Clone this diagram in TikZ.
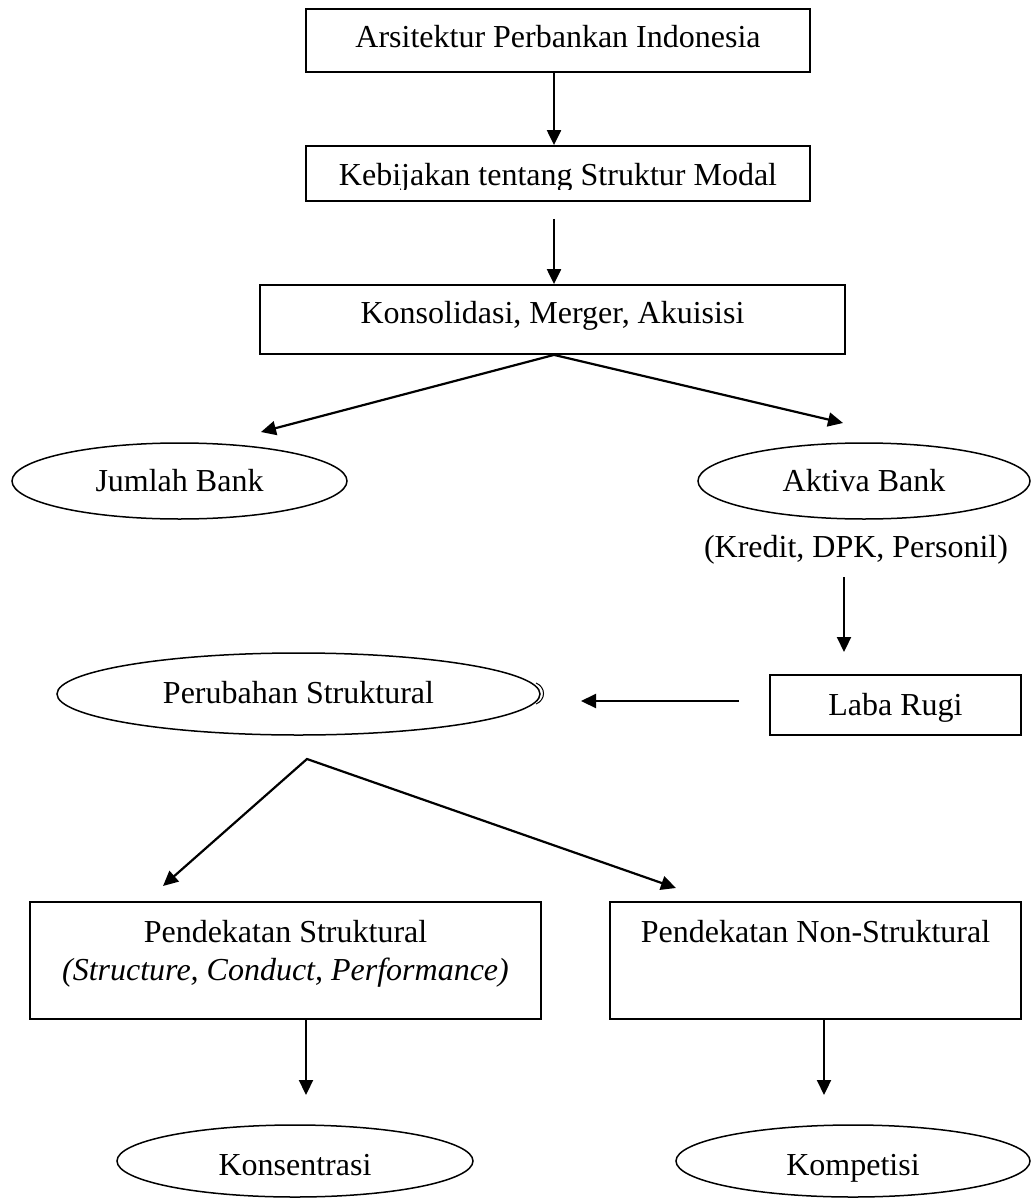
\documentclass[tikz,border=0pt]{standalone}
\usepackage{fontspec}
\setmainfont{Liberation Serif}
\usetikzlibrary{arrows.meta,shapes.geometric}
\begin{document}
\begin{tikzpicture}[x=1pt,y=-1pt,
  txt/.style={font=\fontsize{32}{38}\selectfont, inner sep=0pt, text height=22pt, text depth=2pt},
  boxnode/.style={txt, draw, line width=1.8pt, rectangle},
  ovalnode/.style={txt, draw, line width=1.5pt, ellipse},
  tip/.style={Triangle[length=15pt,width=14pt]},
  arr/.style={line width=2.2pt, -{Triangle[length=15pt,width=14pt]}},
  biarr/.style={line width=2.2pt, {Triangle[length=15pt,width=14pt]}-{Triangle[length=15pt,width=14pt]}, line join=miter}]
\useasboundingbox (0,0) rectangle (1030,1198);

% boxes
\node[boxnode, minimum width=504pt, minimum height=63pt, text depth=7pt] (A) at (558,40.5) {Arsitektur Perbankan Indonesia};
\node[boxnode, minimum width=504pt, minimum height=55pt] (B) at (558,173.5) {};
\begin{scope}
  \clip (306,150) rectangle (810,190);
  \node[txt, anchor=base] (Bt) at (558,186) {Kebijakan tentang Struktur Modal};
\end{scope}
\node[boxnode, minimum width=585pt, minimum height=69pt, text depth=15pt] (C) at (552.5,319.5) {Konsolidasi, Merger, Akuisisi};

% ellipses
\node[ovalnode, minimum width=335pt, minimum height=76pt] (J) at (179.5,481) {Jumlah Bank};
\node[ovalnode, minimum width=332pt, minimum height=76pt] (Ak) at (864,481) {Aktiva Bank};
\node[txt, anchor=base] (Kr) at (856,557) {(Kredit, DPK, Personil)};
\node[boxnode, minimum width=251pt, minimum height=60pt] (LR) at (895.5,705) {Laba Rugi};
\node[ovalnode, minimum width=483pt, minimum height=82pt, text depth=4pt] (P) at (298.5,694) {Perubahan Struktural};
\draw[line width=1pt] (536,683) .. controls (546,687) and (546,700) .. (536,704);

\node[boxnode, minimum width=511pt, minimum height=117pt, text depth=59pt] (D) at (285.5,960.5)
  {\begin{tabular}[t]{@{}c@{}}Pendekatan Struktural\\ \itshape (Structure, Conduct, Performance)\end{tabular}};
\node[boxnode, minimum width=411pt, minimum height=117pt, text depth=59pt] (E) at (815.5,960.5) {Pendekatan Non-Struktural};
\node[ovalnode, minimum width=356pt, minimum height=72pt, text height=30pt] (Ks) at (295,1161) {Konsentrasi};
\node[ovalnode, minimum width=354pt, minimum height=72pt, text height=30pt] (Kp) at (853,1161) {Kompetisi};

% free ends
\coordinate (t1) at (261,432);
\coordinate (t2) at (843,423);
\coordinate (k1) at (844,577);
\coordinate (k2) at (844,652);
\coordinate (t3) at (581,701);
\coordinate (s2) at (307,759);
\coordinate (t4) at (163,886);
\coordinate (t5) at (676,888);
\coordinate (t6) at (306,1095);
\coordinate (t7) at (824,1095);

% connectors
\draw[arr] ([xshift=-4pt]A.south) -- ([xshift=-4pt]B.north);
\draw[arr] ([xshift=-4pt,yshift=-17pt]B.south) -- ([xshift=1.5pt]C.north);
\draw[biarr] (t1) -- ([xshift=1.5pt]C.south) -- (t2);
\draw[arr] (k1) -- (k2);
\draw[arr] ([xshift=-30pt,yshift=4pt]LR.west) -- (t3);
\draw[biarr] (t4) -- (s2) -- (t5);
\draw[arr] ([xshift=20.5pt]D.south) -- (t6);
\draw[arr] ([xshift=8.5pt]E.south) -- (t7);
\end{tikzpicture}
\end{document}
